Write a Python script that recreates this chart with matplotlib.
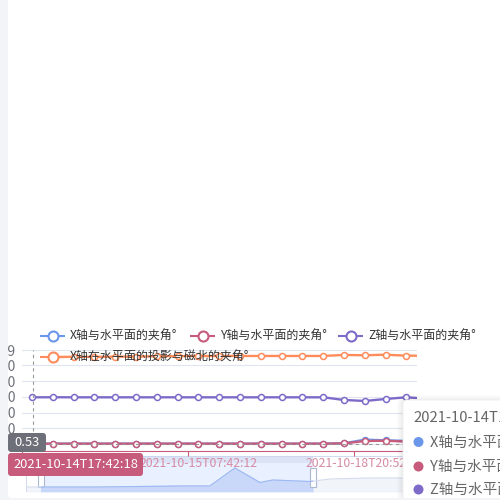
import matplotlib
matplotlib.use('Agg')
import matplotlib.pyplot as plt
import numpy as np
from matplotlib.patches import FancyBboxPatch, Rectangle, Circle

plt.rcParams['font.family'] = ['Noto Sans CJK SC', 'DejaVu Sans']

# ---- data ----
times = ['2021-10-14T17:42:18', '2021-10-14T19:42:17', '2021-10-14T21:42:16',
         '2021-10-14T23:42:15', '2021-10-15T01:42:15', '2021-10-15T03:42:14',
         '2021-10-15T05:42:13', '2021-10-15T06:42:12', '2021-10-15T07:42:12',
         '2021-10-15T09:42:11', '2021-10-15T11:42:10', '2021-10-16T08:12:40',
         '2021-10-16T20:12:33', '2021-10-17T08:12:27', '2021-10-17T20:22:15',
         '2021-10-18T08:52:05', '2021-10-18T20:52:01', '2021-10-19T08:52:00',
         '2021-10-19T20:51:58', '2021-10-20T08:51:55']

x_angle = [0.6, 0.6, 0.6, 0.6, 0.6, 0.6, 0.6, 0.6, 0.6, 0.6,
           0.6, 0.6, 0.6, 0.6, 0.6, 1.2, 8.3, 7.0, 5.8, 5.5]
y_angle = [0.53, 0.53, 0.55, 0.55, 0.55, 0.55, 0.55, 0.55, 0.55, 0.55,
           0.55, 0.55, 0.55, 0.55, 0.6, 1.1, 5.7, 6.3, 4.5, 4.2]
z_angle = [89.2, 89.3, 89.2, 89.2, 89.2, 89.2, 89.2, 89.2, 89.2, 89.2,
           89.2, 89.2, 89.2, 89.2, 89.2, 84.1, 82.2, 86.0, 89.2, 86.5]
# no point is drawn for the first time stamp
north_angle = [np.nan, 166.2, 166.5, 166.5, 166.8, 167.0, 167.5, 168.0, 168.0, 168.2,
               168.2, 168.2, 168.2, 168.2, 168.2, 170.1, 169.5, 170.6, 168.7, 168.7]

series_names = ['X轴与水平面的夹角°', 'Y轴与水平面的夹角°', 'Z轴与水平面的夹角°',
                'X轴在水平面的投影与磁北的夹角°']
colors = ['#6b97ea', '#c65b7c', '#7e6bc9', '#ff8c5a']

y_ticks = [0, 30, 60, 90, 120, 150, 179]
label_idx = [0, 8, 16]

# slider overview (percent of slider width -> height)
shadow_pct = [0, 18.3, 38.1, 45.5, 51.7, 57.9, 61.1, 70.3, 75.2, 85.1, 100]
shadow_val = [5, 5, 6, 6, 24, 9.5, 12, 10.5, 13, 14, 14]
zoom_start, zoom_end = 3.7, 71.0

pointer_value = y_angle[0]

W, H = 500, 500


def box_axes(l, t, r, b):
    return [l / W, 1 - b / H, (r - l) / W, (b - t) / H]


fig = plt.figure(figsize=(5, 5), dpi=100, facecolor='#f3f4f8')

# card background
bg = fig.add_axes([0, 0, 1, 1], zorder=-1)
bg.set_xlim(0, W)
bg.set_ylim(H, 0)
bg.axis('off')
bg.add_patch(FancyBboxPatch((8, -10), 520, 508, boxstyle='round,pad=0,rounding_size=4',
                            fc='white', ec='none'))

# slider
sl = fig.add_axes(box_axes(26, 456, 430, 492), zorder=0)
sl.set_xlim(0, 100)
sl.set_ylim(0, 36)
sl.axis('off')
sl.add_patch(Rectangle((0, 0), 100, 36, fc='none', ec='#d2dbee', lw=0.8))
sl.fill_between(shadow_pct, 0, shadow_val, color='#d2dbee', alpha=0.3, lw=0)
sl.plot(shadow_pct, shadow_val, color='#d2dbee', lw=0.8)
sel = Rectangle((zoom_start, 0), zoom_end - zoom_start, 36, transform=sl.transData,
                fc='none', ec='none')
sl.add_patch(sel)
f = sl.fill_between(shadow_pct, 0, shadow_val, color='#8fb0f7', alpha=0.25, lw=0)
f.set_clip_path(sel)
l, = sl.plot(shadow_pct, shadow_val, color='#9ab8f5', lw=0.8)
l.set_clip_path(sel)
sl.add_patch(Rectangle((zoom_start, 0), zoom_end - zoom_start, 36,
                       fc=(135 / 255, 175 / 255, 1.0), alpha=0.18, lw=0))
sl.add_patch(Rectangle((zoom_start, 29), zoom_end - zoom_start, 7,
                       fc='#d2dbee', alpha=0.6, lw=0))
for p in (zoom_start, zoom_end):
    sl.add_patch(Rectangle((p - 0.75, 5), 1.5, 19, fc='white', ec='#acb8d1', lw=0.8))

# main chart
ax = fig.add_axes(box_axes(21.6, 350.3, 416.8, 451), zorder=1)
ax.patch.set_visible(False)
idx = np.arange(len(times))
for vals, c in zip([x_angle, y_angle, z_angle, north_angle], colors):
    ax.plot(idx, vals, color=c, lw=1.7, marker='o', ms=4.3, mfc='white', mec=c, mew=1.1)
ax.set_xlim(-0.5, 18.5)
ax.set_ylim(-13.4, 179)
ax.set_yticks(y_ticks)
# the 0 label sits under the value pointer box
ax.set_yticklabels(['' if v == 0 else str(v) for v in y_ticks])
ax.yaxis.grid(True, color='#e0e6f1', lw=0.8)
ax.set_axisbelow(True)
ax.tick_params(axis='y', length=0, pad=4, labelsize=10, labelcolor='#6e7079')
ax.set_xticks(label_idx)
# the first label sits under the axis-pointer label box
ax.set_xticklabels(['' if i == 0 else times[i] for i in label_idx])
ax.set_xticks([i - 0.5 for i in label_idx], minor=True)
ax.tick_params(axis='x', which='major', length=0, pad=4, labelsize=8.8, labelcolor='#d68ba4')
ax.tick_params(axis='x', which='minor', length=3.6, width=0.8, color=colors[1])
for s in ['top', 'right', 'left']:
    ax.spines[s].set_visible(False)
ax.spines['bottom'].set_color(colors[1])
ax.spines['bottom'].set_linewidth(0.8)
ax.axvline(0.05, color='#999999', ls=(0, (3, 3)), lw=0.8, zorder=5)
ax.axhline(pointer_value, color='#999999', ls=(0, (3, 3)), lw=0.8, zorder=5)

# overlay: legend, pointer labels, tooltip
ov = fig.add_axes([0, 0, 1, 1], zorder=3)
ov.set_xlim(0, W)
ov.set_ylim(H, 0)
ov.axis('off')

legend_pos = [(40, 336), (190, 336), (338, 336), (40, 357)]
for name, c, (lx, ly) in zip(series_names, colors, legend_pos):
    ov.plot([lx, lx + 25], [ly, ly], color=c, lw=1.5, solid_capstyle='butt')
    ov.plot([lx + 12.5], [ly], marker='o', ms=7.2, mfc='white', mec=c, mew=1.5)
    ov.text(lx + 30, ly, name, size=8.64, color='#333333', va='center', ha='left')

ov.add_patch(FancyBboxPatch((8, 433), 38, 19, boxstyle='round,pad=0,rounding_size=3',
                            fc='#6e7079', ec='none'))
ov.text(27, 442.5, '%.2f' % pointer_value, size=9.3, color='white', ha='center', va='center')
ov.add_patch(FancyBboxPatch((8, 453), 135, 23, boxstyle='round,pad=0,rounding_size=3',
                            fc=colors[1], ec='none'))
ov.text(75.5, 464.5, times[0], size=9.3, color='white', ha='center', va='center')

# tooltip
for s in range(1, 7):
    ov.add_patch(FancyBboxPatch((403 - s, 400 - s + 1), 200 + 2 * s, 200 + 2 * s,
                                boxstyle='round,pad=0,rounding_size=%d' % (4 + s),
                                fc='black', ec='none', alpha=0.012))
ov.add_patch(FancyBboxPatch((403, 400), 200, 200, boxstyle='round,pad=0,rounding_size=4',
                            fc='white', ec='#eeeeee', lw=0.6))
ov.text(413, 417.5, times[0], size=10.7, color='#666666', va='center', ha='left')
tip_rows = [442, 466.5, 489.5]
for name, c, ty, vals in zip(series_names[:3], colors[:3], tip_rows, [x_angle, y_angle, z_angle]):
    ov.add_patch(Circle((418.5, ty), 5, fc=c, ec='none'))
    ov.text(430, ty, '%s  %s' % (name, vals[0]), size=10.5, color='#666666',
            va='center', ha='left')

# grey page edge over the clipped axis labels
ov.add_patch(Rectangle((0, 0), 8, 500, fc='#f3f4f8', ec='none'))
ov.add_patch(Rectangle((0, 498), 500, 2, fc='#f3f4f8', ec='none'))

fig.savefig('out.png', dpi=100, facecolor=fig.get_facecolor())
